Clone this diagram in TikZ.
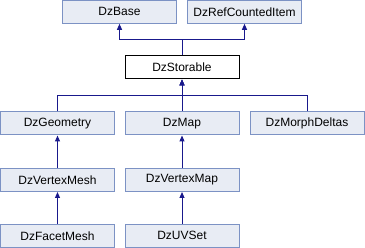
\documentclass[tikz,border=0pt]{standalone}
\usepackage{fontspec}
\setmainfont{Liberation Sans}
\usepackage{xcolor}
\usetikzlibrary{arrows.meta}

\definecolor{clsfill}{RGB}{232,236,244}
\definecolor{clsline}{RGB}{124,146,196}
\definecolor{edgeblue}{RGB}{25,25,140}

\tikzset{
	cls/.style={draw=clsline, fill=clsfill, line width=1pt, minimum width=114pt, minimum height=23pt, inner sep=0pt, font=\fontsize{12}{14}\selectfont},
	curcls/.style={cls, draw=black, fill=white},
	inherit/.style={draw=edgeblue, line width=1pt, -{Triangle[length=6pt,width=5pt]}}
}

\begin{document}
\begin{tikzpicture}[x=1pt,y=-1pt]
		\useasboundingbox (0,0) rectangle (365,248);
		% base classes
		\node[cls] (base) at (119.5,11.8) {DzBase};
		\node[cls] (refitem) at (244.5,11.8) {DzRefCountedItem};
		\node[curcls] (storable) at (182,67.5) {DzStorable};
		% derived classes
		\node[cls] (geometry) at (57.5,123.5) {DzGeometry};
		\node[cls] (map) at (182,123.5) {DzMap};
		\node[cls] (morph) at (307,123.5) {DzMorphDeltas};
		\node[cls] (vmesh) at (57.5,180) {DzVertexMesh};
		\node[cls] (vmap) at (182,180) {DzVertexMap};
		\node[cls] (fmesh) at (57.5,235.8) {DzFacetMesh};
		\node[cls] (uvset) at (182,235.8) {DzUVSet};
		% buses
		\coordinate (topbus) at (182,40);
		\coordinate (midbus) at (182,96);
		% inheritance arrows
		\draw[inherit] (storable.north) -- (topbus) -| (base.south);
		\draw[inherit] (storable.north) -- (topbus) -| (refitem.south);
		\draw[inherit] (geometry.north) |- (midbus) -- (storable.south);
		\draw[inherit] (map.north) -- (storable.south);
		\draw[inherit] (morph.north) |- (midbus) -- (storable.south);
		\draw[inherit] (vmesh.north) -- (geometry.south);
		\draw[inherit] (vmap.north) -- (map.south);
		\draw[inherit] (fmesh.north) -- (vmesh.south);
		\draw[inherit] (uvset.north) -- (vmap.south);
\end{tikzpicture}
\end{document}
